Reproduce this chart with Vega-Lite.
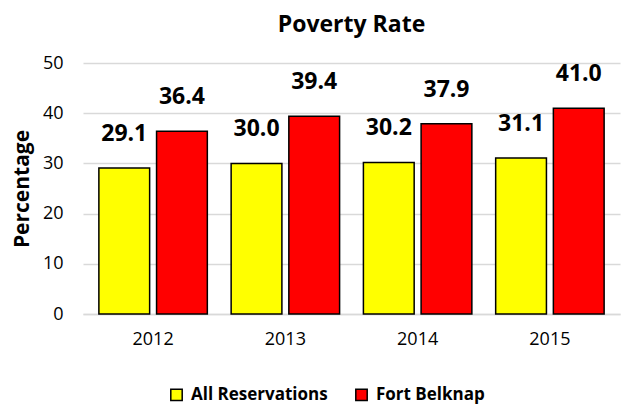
{
  "$schema": "https://vega.github.io/schema/vega-lite/v6.json",
  "autosize": {"type": "none"},
  "width": 537,
  "height": 251,
  "padding": {"left": 83, "top": 63, "right": 17, "bottom": 90},
  "background": "white",
  "config": {"view": {"stroke": null}, "font": "Open Sans"},
  "title": {"text": "Poverty Rate", "fontSize": 23, "fontWeight": "bold", "font": "Open Sans", "color": "#000", "offset": 17, "anchor": "middle"},
  "data": {"values": [
    {"year": "2012", "series": "All Reservations", "value": 29.1},
    {"year": "2012", "series": "Fort Belknap", "value": 36.4},
    {"year": "2013", "series": "All Reservations", "value": 30.0},
    {"year": "2013", "series": "Fort Belknap", "value": 39.4},
    {"year": "2014", "series": "All Reservations", "value": 30.2},
    {"year": "2014", "series": "Fort Belknap", "value": 37.9},
    {"year": "2015", "series": "All Reservations", "value": 31.1},
    {"year": "2015", "series": "Fort Belknap", "value": 41.0}
  ]},
  "encoding": {
    "x": {"field": "year", "type": "nominal", "scale": {"paddingInner": 0.18, "paddingOuter": 0.12},
      "axis": {"title": null, "labelAngle": 0, "ticks": false, "domainColor": "#d9d9d9", "domainWidth": 1.5, "labelFontSize": 18, "labelColor": "#000", "labelPadding": 16, "labelFont": "Open Sans"}},
    "xOffset": {"field": "series", "type": "nominal", "scale": {"paddingInner": 0.12}},
    "y": {"field": "value", "type": "quantitative", "scale": {"domain": [0, 50]},
      "axis": {"title": "Percentage", "titleFontSize": 21, "titleFontWeight": "bold", "titleColor": "#000", "titlePadding": 10, "values": [0, 10, 20, 30, 40, 50], "labelOverlap": false, "ticks": false, "domain": false, "gridColor": "#d9d9d9", "gridWidth": 1.5, "labelFontSize": 18, "labelColor": "#000", "labelPadding": 20, "labelFont": "Open Sans", "titleFont": "Open Sans"}}
  },
  "layer": [
    {
      "mark": {"type": "bar", "stroke": "#000", "strokeWidth": 1.5},
      "encoding": {
        "color": {"field": "series", "type": "nominal",
          "scale": {"domain": ["All Reservations", "Fort Belknap"], "range": ["#FFFF00", "#FF0000"]},
          "legend": {"title": null, "orient": "none", "legendX": 85, "legendY": 323, "direction": "horizontal", "symbolType": "square", "symbolSize": 130, "symbolStrokeColor": "#000", "symbolStrokeWidth": 1.5, "labelFontSize": 17, "labelFontWeight": "bold", "labelColor": "#000", "labelFont": "Open Sans", "columnPadding": 24, "labelOffset": 6}}
      }
    },
    {
      "mark": {"type": "text", "fontSize": 23, "fontWeight": "bold", "baseline": "middle", "dy": -34, "font": "Open Sans", "color": "#000"},
      "encoding": {"text": {"field": "value", "type": "quantitative", "format": ".1f"}}
    }
  ]
}
